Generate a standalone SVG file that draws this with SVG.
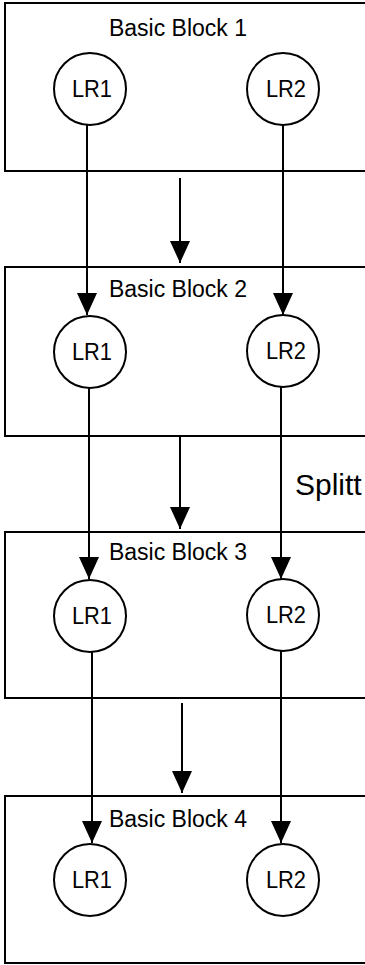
<svg xmlns="http://www.w3.org/2000/svg" width="365" height="965" viewBox="0 0 365 965">
<style>
.blk{fill:#fff;stroke:#000;stroke-width:2}
.lr{fill:#fff;stroke:#000;stroke-width:2}
.t{font-family:"Liberation Sans",Arial,sans-serif;fill:#000}
.title{font-size:23px;text-anchor:middle}
.lbl{font-size:23px;text-anchor:middle}
.c{stroke:#000;stroke-width:2;fill:none;marker-end:url(#ah)}
</style>
<defs>
<marker id="ah" markerUnits="userSpaceOnUse" markerWidth="22" markerHeight="22" viewBox="0 0 22 20" refX="22" refY="10" orient="auto">
<path d="M0,0 L22,10 L0,20 Z" fill="#000"/>
</marker>
</defs>
<rect width="365" height="965" fill="#fff"/>
<g id="block1">
<rect class="blk" x="5" y="3" width="372" height="168"/>
<text class="t title" x="178" y="36">Basic Block 1</text>
</g>
<g id="block2">
<rect class="blk" x="5" y="267" width="372" height="169"/>
<text class="t title" x="178" y="297">Basic Block 2</text>
</g>
<g id="block3">
<rect class="blk" x="5" y="532" width="372" height="166"/>
<text class="t title" x="178" y="560">Basic Block 3</text>
</g>
<g id="block4">
<rect class="blk" x="5" y="796" width="372" height="167"/>
<text class="t title" x="178" y="827">Basic Block 4</text>
</g>
<g id="b1-lr1"><circle class="lr" cx="90" cy="89" r="36"/><text class="t lbl" x="92" y="97" textLength="40" lengthAdjust="spacingAndGlyphs">LR1</text></g>
<g id="b1-lr2"><circle class="lr" cx="283" cy="89" r="36"/><text class="t lbl" x="286" y="97" textLength="40" lengthAdjust="spacingAndGlyphs">LR2</text></g>
<g id="b2-lr1"><circle class="lr" cx="90" cy="352" r="36"/><text class="t lbl" x="92" y="360" textLength="40" lengthAdjust="spacingAndGlyphs">LR1</text></g>
<g id="b2-lr2"><circle class="lr" cx="283" cy="351" r="36"/><text class="t lbl" x="286" y="359" textLength="40" lengthAdjust="spacingAndGlyphs">LR2</text></g>
<g id="b3-lr1"><circle class="lr" cx="90" cy="616" r="36"/><text class="t lbl" x="92" y="624" textLength="40" lengthAdjust="spacingAndGlyphs">LR1</text></g>
<g id="b3-lr2"><circle class="lr" cx="283" cy="615" r="36"/><text class="t lbl" x="286" y="623" textLength="40" lengthAdjust="spacingAndGlyphs">LR2</text></g>
<g id="b4-lr1"><circle class="lr" cx="90" cy="880" r="36"/><text class="t lbl" x="92" y="888" textLength="40" lengthAdjust="spacingAndGlyphs">LR1</text></g>
<g id="b4-lr2"><circle class="lr" cx="283" cy="880" r="36"/><text class="t lbl" x="286" y="888" textLength="40" lengthAdjust="spacingAndGlyphs">LR2</text></g>
<g id="splitting"><text class="t" x="295" y="495" font-size="30">Splitt</text></g>
<g id="connectors">
<line class="c" x1="180" y1="178" x2="180" y2="263"/>
<line class="c" x1="180" y1="437" x2="180" y2="529"/>
<line class="c" x1="182" y1="703" x2="182" y2="793"/>
<line class="c" x1="87" y1="125" x2="87" y2="315"/>
<line class="c" x1="89" y1="388" x2="89" y2="579"/>
<line class="c" x1="92" y1="652" x2="92" y2="843"/>
<line class="c" x1="283" y1="125" x2="283" y2="315"/>
<line class="c" x1="281" y1="387" x2="281" y2="579"/>
<line class="c" x1="281" y1="651" x2="281" y2="843"/>
</g>
</svg>
